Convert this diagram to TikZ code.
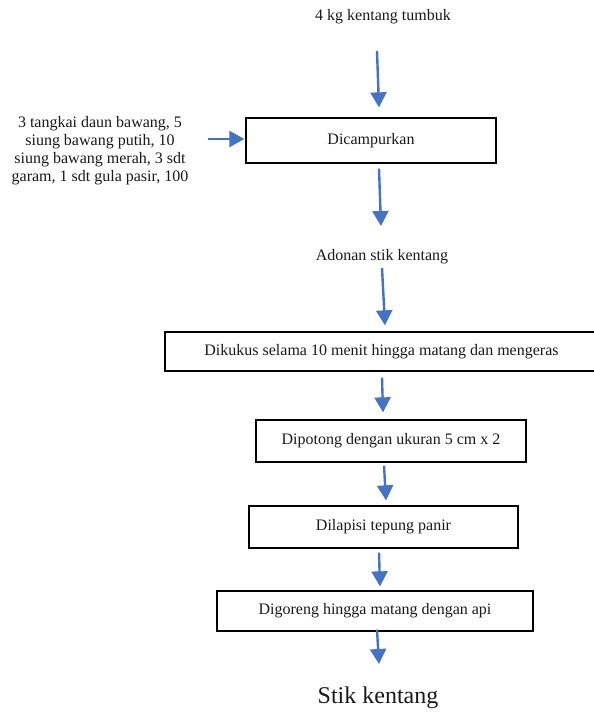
\documentclass[tikz,border=0pt]{standalone}
\usepackage{fontspec}
\setmainfont{Liberation Serif}
\usetikzlibrary{arrows.meta,calc}
\definecolor{flowblue}{HTML}{4472C4}

\begin{document}
\begin{tikzpicture}[x=1pt,y=-1pt]
\tikzstyle{every node}=[font=\fontsize{16}{18}\selectfont, text=black!90]
\tikzstyle{procbox}=[draw=black, line width=1.3pt, inner sep=0pt]
\tikzstyle{flow}=[draw=flowblue, line width=2.4pt, -{Triangle[width=16pt,length=15pt]}]
\useasboundingbox (0,0) rectangle (594,712);
\clip (0,0) rectangle (594,712);

\node (tumbuk) at (383,17) {4 kg kentang tumbuk};
\node[align=center, inner sep=0pt] (bumbu) at (100,151) {3 tangkai daun bawang, 5\\ siung bawang putih, 10\\ siung bawang merah, 3 sdt\\ garam, 1 sdt gula pasir, 100};

\node[procbox, minimum width=250pt, minimum height=45pt] (campur) at (371,140.5) {Dicampurkan};
\node (adonan) at (382,257) {Adonan stik kentang};
\node[procbox, minimum width=433pt, minimum height=39pt] (kukus) at (381.5,351.5) {Dikukus selama 10 menit hingga matang dan mengeras};
\node[procbox, minimum width=270pt, minimum height=42pt] (potong) at (391,441) {Dipotong dengan ukuran 5 cm x 2};
\node[procbox, minimum width=269pt, minimum height=42pt] (lapis) at (383.5,527) {Dilapisi tepung panir};
\node[procbox, minimum width=316pt, minimum height=40pt] (goreng) at (375,611) {Digoreng hingga matang dengan api};
\node[font=\fontsize{24}{28}\selectfont] (stik) at (378,698) {Stik kentang};

\draw[flow] ($(tumbuk)+(-6,34)$) -- ($(campur.north)+(8,-10)$);
\draw[flow] ($(campur.west)+(-37,-1.5)$) -- ($(campur.west)+(-1,-1.5)$);
\draw[flow] ($(campur.south)+(8,5)$) -- ($(adonan)+(-1,-31)$);
\draw[flow] ($(adonan)+(0,11)$) -- ($(kukus.north)+(3.5,-6)$);
\draw[flow] ($(kukus.south)+(0.5,6)$) -- ($(potong.north)+(-8,-7)$);
\draw[flow] ($(potong.south)+(-7,3)$) -- ($(lapis.north)+(2.5,-5)$);
\draw[flow] ($(lapis.south)+(-4.5,4)$) -- ($(goreng.north)+(5,-4)$);
\draw[flow] ($(goreng.south)+(2,-2)$) -- ($(stik)+(1,-34)$);
\end{tikzpicture}
\end{document}
